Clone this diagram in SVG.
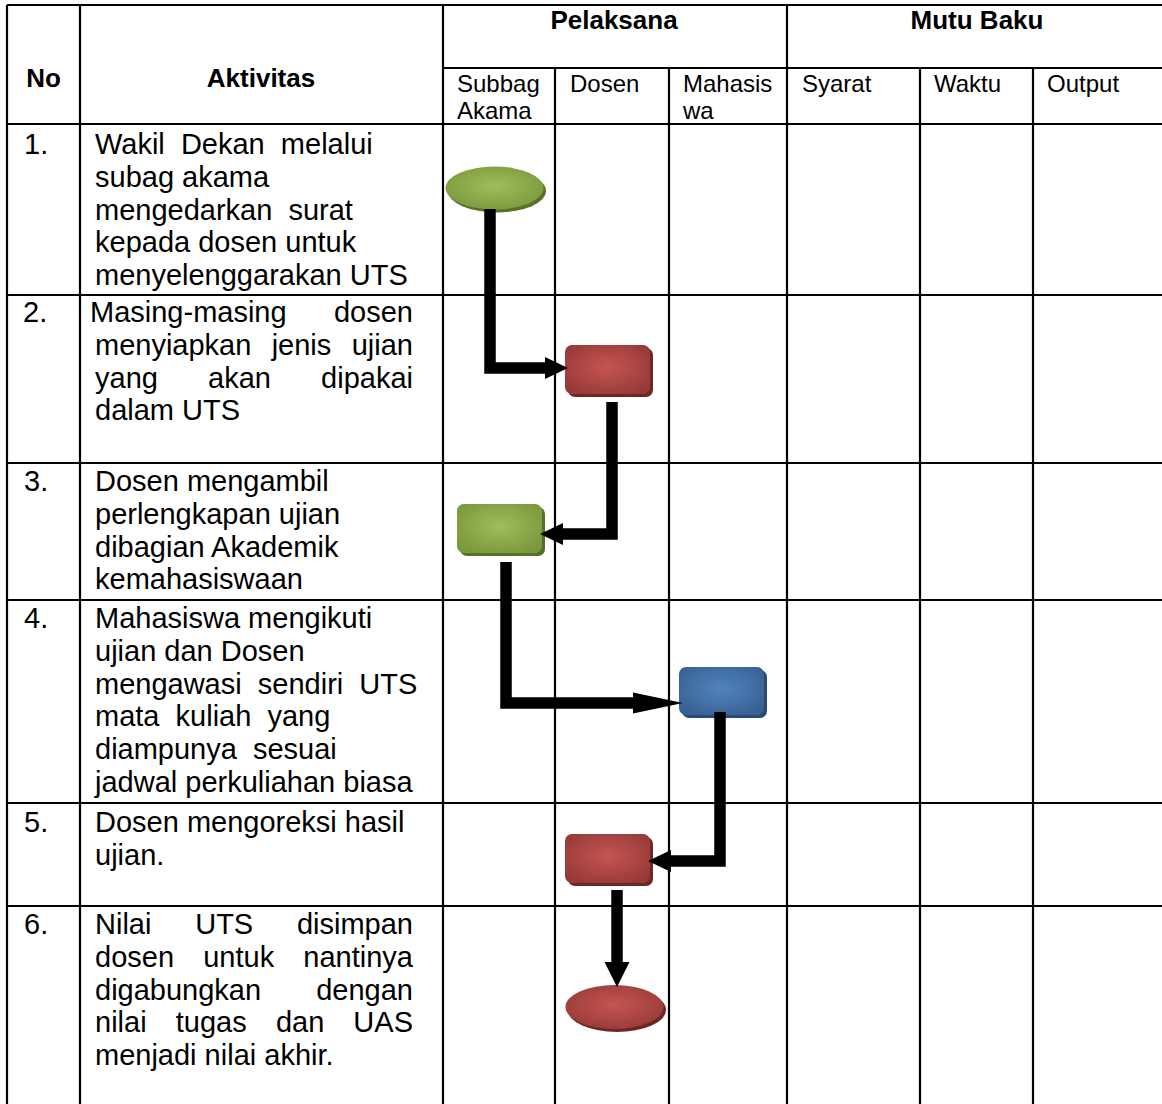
<svg xmlns="http://www.w3.org/2000/svg" width="1162" height="1104" viewBox="0 0 1162 1104">
<style>
  .grid { stroke: #000; stroke-width: 2.2; fill: none; }
  .t { font-family: "Liberation Sans", Arial, sans-serif; font-size: 29px; fill: #000; white-space: pre; }
  .h { font-family: "Liberation Sans", Arial, sans-serif; font-size: 26px; font-weight: bold; fill: #000; text-anchor: middle; }
  .s { font-family: "Liberation Sans", Arial, sans-serif; font-size: 24px; fill: #000; }
  .e { text-anchor: end; }
  .m { text-anchor: middle; }
  .conn { stroke: #000; stroke-width: 11.5; fill: none; stroke-linejoin: miter; stroke-linecap: butt; }
</style>
<defs>
  <radialGradient id="gGreen" cx="0.5" cy="0.45" r="0.62">
    <stop offset="0" stop-color="#9fbd5c"/>
    <stop offset="1" stop-color="#7a983c"/>
  </radialGradient>
  <radialGradient id="gRed" cx="0.5" cy="0.45" r="0.62">
    <stop offset="0" stop-color="#c55552"/>
    <stop offset="1" stop-color="#963a37"/>
  </radialGradient>
  <radialGradient id="gBlue" cx="0.5" cy="0.45" r="0.62">
    <stop offset="0" stop-color="#5183bf"/>
    <stop offset="1" stop-color="#386193"/>
  </radialGradient>
  <marker id="arrow" markerUnits="userSpaceOnUse" markerWidth="24" markerHeight="24" refX="0" refY="11" orient="auto" viewBox="0 0 24 22">
    <path d="M0,0 L23,11 L0,22 z" fill="#000"/>
  </marker>
  <marker id="arrowDown" markerUnits="userSpaceOnUse" markerWidth="26" markerHeight="26" refX="0" refY="12.5" orient="auto" viewBox="0 0 26 25">
    <path d="M0,0 L25,12.5 L0,25 z" fill="#000"/>
  </marker>
  <marker id="arrowLong" markerUnits="userSpaceOnUse" markerWidth="51" markerHeight="22" refX="0" refY="10.5" orient="auto" viewBox="0 0 51 21">
    <path d="M0,0 L50,10.5 L0,21 z" fill="#000"/>
  </marker>
</defs>
<rect x="0" y="0" width="1162" height="1104" fill="#fff"/>

<g id="table">
  <line class="grid" x1="7" y1="5" x2="1162" y2="5"/>
  <line class="grid" x1="443" y1="68" x2="1162" y2="68"/>
  <line class="grid" x1="7" y1="124" x2="1162" y2="124"/>
  <line class="grid" x1="7" y1="295" x2="1162" y2="295"/>
  <line class="grid" x1="7" y1="463" x2="1162" y2="463"/>
  <line class="grid" x1="7" y1="600" x2="1162" y2="600"/>
  <line class="grid" x1="7" y1="803" x2="1162" y2="803"/>
  <line class="grid" x1="7" y1="906" x2="1162" y2="906"/>
  <line class="grid" x1="7" y1="5" x2="7" y2="1104"/>
  <line class="grid" x1="80" y1="5" x2="80" y2="1104"/>
  <line class="grid" x1="443" y1="5" x2="443" y2="1104"/>
  <line class="grid" x1="787" y1="5" x2="787" y2="1104"/>
  <line class="grid" x1="555" y1="68" x2="555" y2="1104"/>
  <line class="grid" x1="669" y1="68" x2="669" y2="1104"/>
  <line class="grid" x1="920" y1="68" x2="920" y2="1104"/>
  <line class="grid" x1="1033" y1="68" x2="1033" y2="1104"/>
</g>

<g id="header">
  <text class="h" x="43.5" y="87">No</text>
  <text class="h" x="261" y="87">Aktivitas</text>
  <text class="h" x="614" y="29">Pelaksana</text>
  <text class="h" x="977" y="29">Mutu Baku</text>
  <text class="s" x="457" y="92">Subbag</text>
  <text class="s" x="457" y="119">Akama</text>
  <text class="s" x="570" y="92">Dosen</text>
  <text class="s" x="683" y="92">Mahasis</text>
  <text class="s" x="683" y="119">wa</text>
  <text class="s" x="802" y="92">Syarat</text>
  <text class="s" x="934" y="92">Waktu</text>
  <text class="s" x="1047" y="92">Output</text>
</g>

<g id="row1">
  <text class="t" x="24" y="154">1.</text>
  <text class="t" x="95" y="154">Wakil  Dekan  melalui</text>
  <text class="t" x="95" y="186.8">subag akama</text>
  <text class="t" x="95" y="219.6">mengedarkan  surat</text>
  <text class="t" x="95" y="252.4">kepada dosen untuk</text>
  <text class="t" x="95" y="285.2">menyelenggarakan UTS</text>
</g>

<g id="row2">
  <text class="t" x="23" y="322">2.</text>
  <text class="t" x="90" y="322">Masing-masing</text>
  <text class="t e" x="413" y="322">dosen</text>
  <text class="t" x="95" y="354.8">menyiapkan</text>
  <text class="t m" x="301.5" y="354.8">jenis</text>
  <text class="t e" x="413" y="354.8">ujian</text>
  <text class="t" x="95" y="387.6">yang</text>
  <text class="t m" x="239.5" y="387.6">akan</text>
  <text class="t e" x="413" y="387.6">dipakai</text>
  <text class="t" x="95" y="420.4">dalam UTS</text>
</g>

<g id="row3">
  <text class="t" x="24" y="491">3.</text>
  <text class="t" x="95" y="491">Dosen mengambil</text>
  <text class="t" x="95" y="523.8">perlengkapan ujian</text>
  <text class="t" x="95" y="556.6">dibagian Akademik</text>
  <text class="t" x="95" y="589.4">kemahasiswaan</text>
</g>

<g id="row4">
  <text class="t" x="24" y="628">4.</text>
  <text class="t" x="95" y="628">Mahasiswa mengikuti</text>
  <text class="t" x="95" y="660.8">ujian dan Dosen</text>
  <text class="t" x="95" y="693.6">mengawasi  sendiri  UTS</text>
  <text class="t" x="95" y="726.4">mata  kuliah  yang</text>
  <text class="t" x="95" y="759.2">diampunya  sesuai</text>
  <text class="t" x="95" y="792">jadwal perkuliahan biasa</text>
</g>

<g id="row5">
  <text class="t" x="24" y="832">5.</text>
  <text class="t" x="95" y="832">Dosen mengoreksi hasil</text>
  <text class="t" x="95" y="864.8">ujian.</text>
</g>

<g id="row6">
  <text class="t" x="24" y="934">6.</text>
  <text class="t" x="95" y="934">Nilai</text>
  <text class="t m" x="224.2" y="934">UTS</text>
  <text class="t e" x="413" y="934">disimpan</text>
  <text class="t" x="95" y="966.8">dosen</text>
  <text class="t m" x="238.7" y="966.8">untuk</text>
  <text class="t e" x="413" y="966.8">nantinya</text>
  <text class="t" x="95" y="999.6">digabungkan</text>
  <text class="t e" x="413" y="999.6">dengan</text>
  <text class="t" x="95" y="1032.4">nilai</text>
  <text class="t" x="175.8" y="1032.4">tugas</text>
  <text class="t" x="275.9" y="1032.4">dan</text>
  <text class="t e" x="413" y="1032.4">UAS</text>
  <text class="t" x="95" y="1065.2">menjadi nilai akhir.</text>
</g>

<g id="node-start">
  <ellipse cx="497" cy="191" rx="49" ry="21.5" fill="#58702a"/>
  <ellipse cx="494.5" cy="188" rx="49" ry="21.5" fill="url(#gGreen)"/>
</g>
<g id="node-step2">
  <rect x="568" y="348" width="85" height="49" rx="7" fill="#6b2826"/>
  <rect x="565" y="345" width="85" height="49" rx="7" fill="url(#gRed)"/>
</g>
<g id="node-step3">
  <rect x="460" y="507" width="85" height="49" rx="7" fill="#56702a"/>
  <rect x="457" y="504" width="85" height="49" rx="7" fill="url(#gGreen)"/>
</g>
<g id="node-step4">
  <rect x="682" y="670" width="85" height="48" rx="7" fill="#284a73"/>
  <rect x="679" y="667" width="85" height="48" rx="7" fill="url(#gBlue)"/>
</g>
<g id="node-step5">
  <rect x="568" y="837" width="85" height="49" rx="7" fill="#6b2826"/>
  <rect x="565" y="834" width="85" height="49" rx="7" fill="url(#gRed)"/>
</g>
<g id="node-end">
  <ellipse cx="617" cy="1010" rx="49" ry="22" fill="#6b2826"/>
  <ellipse cx="614.5" cy="1007" rx="49" ry="22" fill="url(#gRed)"/>
</g>

<g id="connectors">
  <path class="conn" d="M490 209 V368 H545" marker-end="url(#arrow)"/>
  <path class="conn" d="M612 402 V534 H563" marker-end="url(#arrow)"/>
  <path class="conn" d="M506 562 V703 H633" marker-end="url(#arrowLong)"/>
  <path class="conn" d="M720 712 V861 H671" marker-end="url(#arrow)"/>
  <path class="conn" d="M617 890 V962" marker-end="url(#arrowDown)"/>
</g>
</svg>
